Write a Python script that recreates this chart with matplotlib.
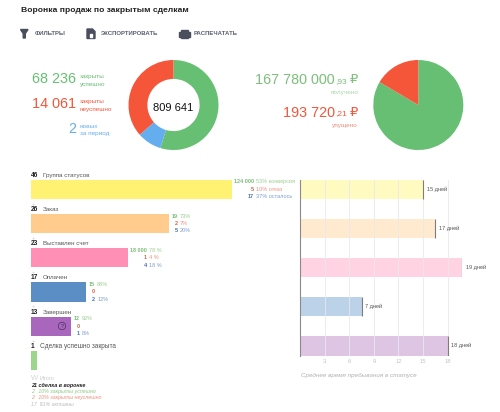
import matplotlib
matplotlib.use("Agg")
import matplotlib.pyplot as plt
from matplotlib.patches import Polygon, Rectangle, Circle

plt.rcParams['font.family'] = ['Liberation Sans', 'DejaVu Sans']

W, H = 500, 412

# donut / pie shares
donut_values = [54.7, 8.8, 36.5]
pie_values = [83.5, 16.5]

# funnel
stage_names = ['Группа статусов', 'Заказ', 'Выставлен счет', 'Оплачен', 'Завершен', 'Сделка успешно закрыта']
stage_counts = ['46', '26', '23', '17', '13', '1']
stage_widths = [100, 69, 48.3, 27.5, 20, 2.9]
conv_num = ['124 000', '19', '18 000', '15', '12', None]
conv_pct = ['53% конверсия', '73%', '78 %', '88%', '92%', None]
lost_num = ['5', '2', '1', '0', '0', None]
lost_pct = ['10% отказ', '7%', '4 %', '', '', None]
left_num = ['17', '5', '4', '2', '1', None]
left_pct = ['37% осталось', '20%', '18 %', '12%', '8%', None]

# time in status
days_values = [15, 16.5, 19.8, 7.5, 18]
days_labels = ['15 дней', '17 дней', '19 дней', '7 дней', '18 дней']
days_ticks = [3, 6, 9, 12, 15, 18]

GREEN = '#66BF72'
RED = '#F5563A'
BLUE = '#64AEF0'
stage_colors = ['#FFF272', '#FFCC8E', '#FF8FB4', '#5B8EC4', '#A867BD', '#9CD68B']
days_colors = ['#FFFABF', '#FFE9CF', '#FFD3E1', '#BBD2E8', '#DEC5E3']
NUM_GREEN = '#7CBF7A'
NUM_RED = '#E0634A'
NUM_BLUE = '#4C74B5'


def axes_px(x0, y0, x1, y1):
    return fig.add_axes([x0 / W, 1 - y1 / H, (x1 - x0) / W, (y1 - y0) / H])


fig = plt.figure(figsize=(W / 100, H / 100), dpi=100)

# overlay in pixel coords for headings and captions
bg = axes_px(0, 0, W, H)
bg.set_xlim(0, W)
bg.set_ylim(H, 0)
bg.axis('off')
bg.set_zorder(10)


def txt(x, y, s, size=5, color='#333333', ha='left', **kw):
    bg.text(x, y, s, fontsize=size, color=color, ha=ha, va='center', **kw)


txt(21, 10.5, 'Воронка продаж по закрытым сделкам', size=6.1, color='#222222', fontweight='bold')

# toolbar
ICON = '#4A4F5E'
bg.add_patch(Polygon([(20.5, 29.5), (28, 29.5), (25.3, 33.5), (25.3, 38), (23.2, 38), (23.2, 33.5)], color=ICON))
bg.add_patch(Polygon([(87, 29), (92.5, 29), (95, 31.5), (95, 38.5), (87, 38.5)], color=ICON))
bg.add_patch(Rectangle((90, 34), 2.2, 2.5, color='white'))
bg.add_patch(Rectangle((179, 32), 10.5, 4.5, color=ICON))
bg.add_patch(Rectangle((181, 29.5), 6.5, 2, color=ICON))
bg.add_patch(Rectangle((181, 35), 6.5, 2.5, color=ICON))
for x, s in [(35, 'ФИЛЬТРЫ'), (101, 'ЭКСПОРТИРОВАТЬ'), (194, 'РАСПЕЧАТАТЬ')]:
    txt(x, 33.8, s, size=4.3, color='#5A5F70', fontweight='bold')

# left stats
txt(76, 79, '68 236', size=10.35, color=GREEN, ha='right')
txt(76, 104, '14 061', size=10.35, color=RED, ha='right')
txt(76, 129, '2', size=10.35, color=BLUE, ha='right')
txt(80, 76.5, 'закрыты', color=GREEN, size=4.6)
txt(80, 84, 'успешно', color=GREEN, size=4.6)
txt(80, 101.5, 'закрыты', color=RED, size=4.6)
txt(80, 109, 'неуспешно', color=RED, size=4.6)
txt(80, 126.5, 'новых', color=BLUE, size=4.6)
txt(80, 133.5, 'за период', color=BLUE, size=4.6)

# money stats
txt(335, 80, '167 780 000', size=10.35, color=NUM_GREEN, ha='right')
txt(335, 81.5, ',93', size=6, color=NUM_GREEN)
txt(358, 80, '₽', size=9.5, color=NUM_GREEN, ha='right')
txt(358, 92, 'получено', size=4.6, color='#A5D6A5', ha='right')
txt(335, 112.5, '193 720', size=10.35, color=RED, ha='right')
txt(335, 114, ',21', size=6, color=RED)
txt(358, 112.5, '₽', size=9.5, color=RED, ha='right')
txt(358, 125.3, 'упущено', size=4.6, color='#F08B78', ha='right')

# donut
ax_d = axes_px(128.5, 60, 218.5, 150)
ax_d.pie(donut_values, colors=[GREEN, BLUE, RED], startangle=90, counterclock=False,
         radius=1, wedgeprops={'width': 0.42, 'linewidth': 0})
ax_d.set_xlim(-1, 1)
ax_d.set_ylim(-1, 1)
ax_d.text(0, -0.07, '809 641', fontsize=8, color='#111111', ha='center', va='center')

# pie
ax_p = axes_px(373.3, 60, 463.3, 150)
ax_p.pie(pie_values, colors=[GREEN, RED], startangle=90, counterclock=False,
         radius=1, wedgeprops={'linewidth': 0})
ax_p.set_xlim(-1, 1)
ax_p.set_ylim(-1, 1)

# funnel bars
ax_f = axes_px(31, 179.5, 231.7, 370.2)
ax_f.set_xlim(0, 100)
ax_f.set_ylim(5.283, -0.283)
ax_f.axis('off')
ypos = list(range(len(stage_names)))
ax_f.barh(ypos, stage_widths, height=0.566, color=stage_colors)
num_gap = [22, 8.3, 19, 9, 8.5, 0]
for i in ypos:
    rows = [(conv_num[i], conv_pct[i], NUM_GREEN, -7.4),
            (lost_num[i], lost_pct[i], NUM_RED, 0),
            (left_num[i], left_pct[i], NUM_BLUE, 7.3)]
    for num, pct, col, dy in rows:
        if num is None:
            continue
        ax_f.annotate(num, (stage_widths[i], i), xytext=(num_gap[i], -dy), textcoords='offset pixels',
                      fontsize=4, color=col, ha='right', va='center', fontweight='bold',
                      annotation_clip=False)
        pct_col = {NUM_GREEN: '#9CD08F', NUM_RED: '#EE9282', NUM_BLUE: '#7F9FD0'}[col]
        ax_f.annotate(pct, (stage_widths[i], i), xytext=(num_gap[i] + 2, -dy), textcoords='offset pixels',
                      fontsize=4, color=pct_col, ha='left', va='center', annotation_clip=False)

# stage headings
for i, (cnt, name) in enumerate(zip(stage_counts, stage_names)):
    y = 175.3 + i * 34.2
    txt(31, y, cnt, size=4.8, color='#222222', fontweight='bold')
    if i < 5:
        txt(43, y, name, size=4.5, color='#555555')
        txt(31.5, y + 29, '+', size=4, color='#C8C8C8')
    else:
        txt(40, y, name, size=4.7, color='#555555')

# question mark on the purple bar
bg.add_patch(Circle((62, 326), 3.7, fill=False, ec='#4A3060', lw=0.5, zorder=5))
txt(62, 326, '?', size=4, color='#4A3060', ha='center', zorder=5)

# funnel summary
txt(31, 378, 'W', size=5.5, color='#D5D5D5')
txt(40, 378, 'Итого', size=4.1, color='#CCCCCC')
txt(31, 386, '21 сделка в воронке', size=3.9, color='#222222', fontweight='bold', style='italic')
txt(31, 392, '2   10% закрыты успешно', size=3.75, color='#8CCB80', style='italic')
txt(31, 398, '2   10% закрыты неуспешно', size=3.75, color='#EE8F7C', style='italic')
txt(31, 404, '17  81% активны', size=3.75, color='#BBBBBB', style='italic')

# time in status
ax_t = axes_px(300.3, 179.5, 462.3, 355.5)
ax_t.set_xlim(0, 19.8)
ax_t.set_ylim(4.245, -0.245)
ypos2 = list(range(len(days_values)))
ax_t.barh(ypos2, days_values, height=0.49, color=days_colors, zorder=2)
ax_t.vlines(days_values, [y - 0.245 for y in ypos2], [y + 0.245 for y in ypos2], color='#807B7B', lw=0.8, zorder=3)
for y, v, lab in zip(ypos2, days_values, days_labels):
    ax_t.annotate(lab, (v, y), xytext=(3.5, 0), textcoords='offset pixels', fontsize=4,
                  color='#555555', ha='left', va='center', annotation_clip=False)
ax_t.set_xticks(days_ticks)
ax_t.set_xticklabels(days_ticks, fontsize=4.2, color='#C4C4C4')
ax_t.set_yticks([])
ax_t.tick_params(axis='x', length=0, pad=2.5)
ax_t.grid(axis='x', color='#E8E8EE', lw=0.6, zorder=1)
ax_t.set_axisbelow(False)
for side in ['top', 'right', 'bottom']:
    ax_t.spines[side].set_visible(False)
ax_t.spines['left'].set_color('#8A8A8A')
ax_t.spines['left'].set_linewidth(0.8)
ax_t.patch.set_alpha(0)

txt(301, 376, 'Среднее время пребывания в статусе', size=4.5, color='#B0B0B0', style='italic')

fig.savefig('out.png', dpi=100)
